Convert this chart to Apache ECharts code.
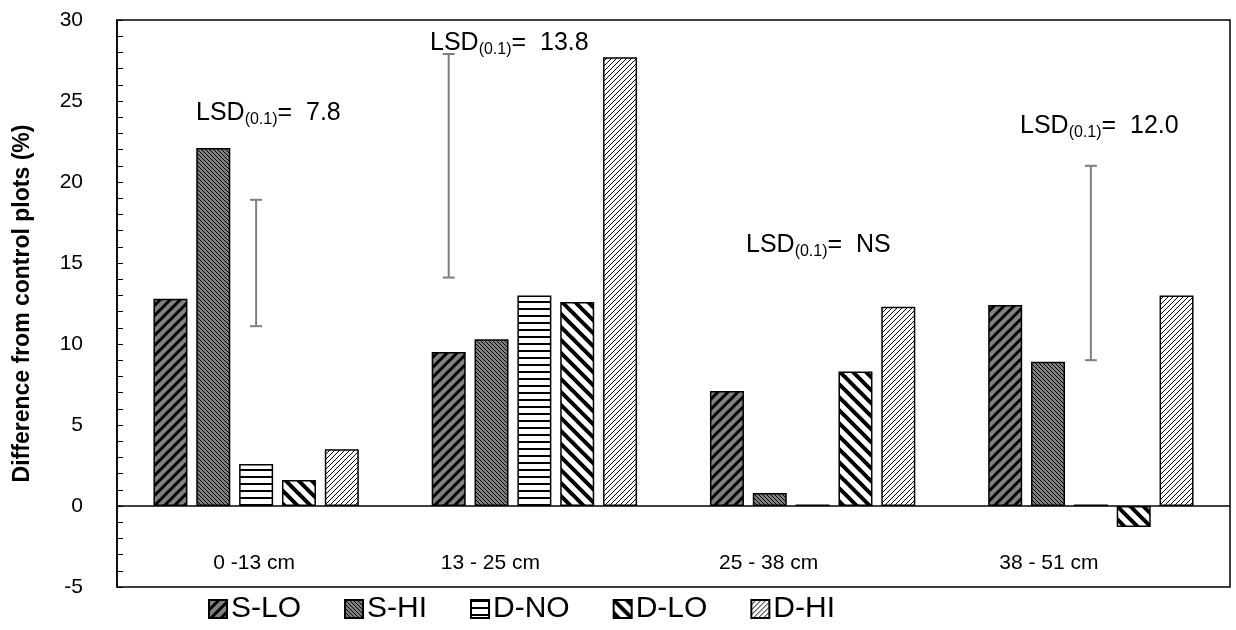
<!DOCTYPE html>
<html>
<head>
<meta charset="utf-8">
<script src="https://cdn.jsdelivr.net/npm/echarts@6/dist/echarts.min.js"></script>
<style>
  html, body { margin: 0; padding: 0; background: #fff; }
  #chart { width: 1236px; height: 630px; }
</style>
</head>
<body>
<div id="chart"></div>
<script>
// Soil depth intervals and treatment differences from control plots (%)
const depths = ['0 -13 cm', '13 - 25 cm', '25 - 38 cm', '38 - 51 cm'];
const seriesNames = ['S-LO', 'S-HI', 'D-NO', 'D-LO', 'D-HI'];
const sLo = [12.8, 9.5, 7.1, 12.4];
const sHi = [22.1, 10.3, 0.8, 8.9];
const dNo = [2.6, 13.0, 0.1, 0.1];
const dLo = [1.6, 12.6, 8.3, -1.3];
const dHi = [3.5, 27.7, 12.3, 13.0];

// LSD(0.1) per depth (null = not significant) and the lower end of each LSD bar
const lsdValue = [7.8, 13.8, null, 12.0];
const lsdBase = [11.1, 14.1, null, 9.0];

const yMin = -5, yMax = 30, yStep = 5;

const FONT = '"Liberation Sans", Arial, Helvetica, sans-serif';

// ---- hatch fills ----
function tile(w, h, bg, draw) {
  const c = document.createElement('canvas');
  c.width = w; c.height = h;
  const g = c.getContext('2d');
  g.fillStyle = bg; g.fillRect(0, 0, w, h);
  g.fillStyle = '#000'; g.strokeStyle = '#000';
  draw(g, w, h);
  return { image: c, repeat: 'repeat' };
}
// thick diagonal stripes; dir = 1 for "/", -1 for "\"
function stripes(g, s, lw, dir) {
  g.lineWidth = lw;
  g.lineCap = 'square';
  g.beginPath();
  for (let k = -1; k <= 1; k++) {
    if (dir > 0) { g.moveTo(k * s, s); g.lineTo(k * s + s, 0); }
    else { g.moveTo(k * s, 0); g.lineTo(k * s + s, s); }
  }
  g.stroke();
}
// one-pixel diagonal lines
function pixelDiag(g, s, dir) {
  for (let i = 0; i < s; i++) {
    g.fillRect(i, dir > 0 ? s - 1 - i : i, 1, 1);
  }
}
const fills = [
  tile(10, 10, '#808080', (g) => stripes(g, 10, 3, 1)),
  tile(4, 4, '#808080', (g) => pixelDiag(g, 4, -1)),
  tile(4, 7, '#ffffff', (g) => g.fillRect(0, 0, 4, 2)),
  tile(13, 13, '#ffffff', (g) => stripes(g, 13, 4, -1)),
  tile(5, 5, '#ffffff', (g) => pixelDiag(g, 5, 1))
];

const values = [sLo, sHi, dNo, dLo, dHi];
const BAR_W = 34;
const BAR_GAP = 0.26;

const barSeries = seriesNames.map((name, i) => ({
  name: name,
  type: 'bar',
  data: values[i],
  barWidth: BAR_W,
  barGap: (BAR_GAP * 100) + '%',
  itemStyle: { color: fills[i], borderColor: '#000', borderWidth: 1.5 },
  emphasis: { disabled: true },
  silent: true,
  z: 2
}));

// zero reference line across the plot
barSeries[0].markLine = {
  silent: true,
  symbol: 'none',
  label: { show: false },
  lineStyle: { color: '#000', width: 1.5, type: 'solid' },
  data: [{ yAxis: 0 }],
  z: 4
};

// which bar slot (0..4) each LSD bar stands above
const lsdSlot = [2, 0, 2, 2];
const lsdData = [];
lsdValue.forEach((v, i) => {
  if (v !== null) lsdData.push([i, lsdBase[i], lsdBase[i] + v]);
});

const lsdSeries = {
  type: 'custom',
  silent: true,
  z: 3,
  data: lsdData,
  encode: { x: 0, y: [1, 2] },
  renderItem: function (params, api) {
    const cat = api.value(0);
    const lo = api.coord([cat, api.value(1)]);
    const hi = api.coord([cat, api.value(2)]);
    const pitch = BAR_W * (1 + BAR_GAP);
    const x = lo[0] + (lsdSlot[cat] - 2) * pitch;
    const cap = 6;
    const st = { stroke: '#7f7f7f', lineWidth: 2 };
    return {
      type: 'group',
      children: [
        { type: 'line', shape: { x1: x, y1: lo[1], x2: x, y2: hi[1] }, style: st },
        { type: 'line', shape: { x1: x - cap, y1: lo[1], x2: x + cap, y2: lo[1] }, style: st },
        { type: 'line', shape: { x1: x - cap, y1: hi[1], x2: x + cap, y2: hi[1] }, style: st }
      ]
    };
  }
};

// LSD annotation text
const lsdRich = {
  m: { fontSize: 25, fontFamily: FONT, lineHeight: 27, verticalAlign: 'top', color: '#000' },
  s: { fontSize: 16, fontFamily: FONT, lineHeight: 18, padding: [15, 0, 0, 0], verticalAlign: 'bottom', color: '#000' }
};
const lsdAt = [[196, 111], [430, 41], [746, 243], [1020, 124]];
const lsdGraphics = lsdValue.map((v, i) => ({
  type: 'text',
  left: lsdAt[i][0],
  top: lsdAt[i][1] - 14,
  silent: true,
  z: 10,
  style: {
    text: '{m|LSD}{s|(0.1)}{m|=  ' + (v === null ? 'NS' : v.toFixed(1)) + '}',
    rich: lsdRich
  }
}));

// horizontal nudge (px, negative = left) of each depth label under its group
const labelShift = [-2, -44, -44, -42];
const categoryItems = depths.map((d, i) => ({
  value: d,
  textStyle: {
    padding: labelShift[i] < 0 ? [0, -2 * labelShift[i], 0, 0] : [0, 0, 0, 2 * labelShift[i]]
  }
}));

const chart = echarts.init(document.getElementById('chart'), null, { renderer: 'canvas' });
chart.setOption({
  animation: false,
  backgroundColor: '#fff',
  grid: {
    left: 117, right: 6, top: 20, bottom: 43,
    outerBoundsMode: 'none',
    containLabel: false,
    show: true, borderColor: '#000', borderWidth: 1.5, backgroundColor: 'transparent'
  },
  legend: {
    data: seriesNames,
    left: 208,
    top: 592,
    padding: 0,
    icon: 'rect',
    itemWidth: 18,
    itemHeight: 18,
    itemGap: 43,
    selectedMode: false,
    textStyle: { fontSize: 30, fontFamily: FONT, color: '#000', lineHeight: 34, padding: [0, 0, 0, -1] }
  },
  xAxis: {
    type: 'category',
    data: categoryItems,
    position: 'bottom',
    axisLine: { show: false, onZero: false },
    axisTick: { show: false },
    axisLabel: { inside: true, margin: 13, fontSize: 21, fontFamily: FONT, color: '#000' },
    splitLine: { show: false }
  },
  yAxis: {
    type: 'value',
    min: yMin, max: yMax, interval: yStep,
    name: 'Difference from control plots (%)',
    nameLocation: 'middle',
    nameGap: 83,
    nameTextStyle: { fontSize: 23, fontWeight: 'bold', fontFamily: FONT, color: '#000' },
    axisLine: { show: true, onZero: false, lineStyle: { color: '#000', width: 1.5 } },
    axisTick: { show: true, inside: true, length: 6, lineStyle: { color: '#000', width: 1 } },
    minorTick: { show: true, splitNumber: 5, length: 6, lineStyle: { color: '#000', width: 1 } },
    axisLabel: { margin: 34, fontSize: 21, fontFamily: FONT, color: '#000' },
    splitLine: { show: false }
  },
  graphic: lsdGraphics,
  series: barSeries.concat([lsdSeries])
});
</script>
</body>
</html>
